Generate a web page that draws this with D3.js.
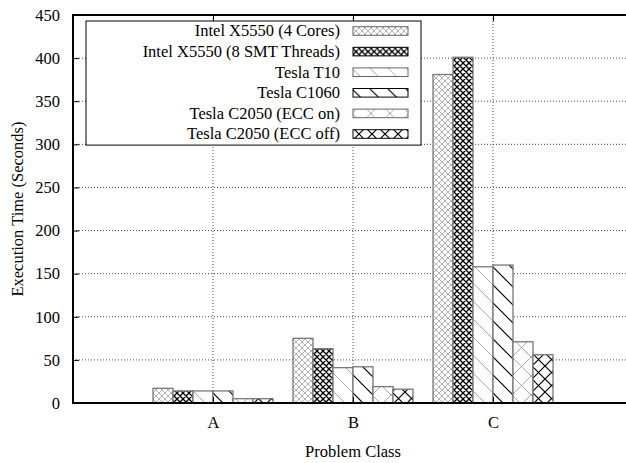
<!DOCTYPE html>
<html>
<head>
<meta charset="utf-8">
<script src="https://cdn.jsdelivr.net/npm/d3@7"></script>
<style>
  html, body { margin: 0; padding: 0; background: #fff; }
  svg { display: block; }
  text { font-family: "Liberation Serif", "Times New Roman", serif; fill: #000; }
</style>
</head>
<body>
<div id="chart"></div>
<script>
// values (seconds)
const categories = ["A", "B", "C"];
const seriesNames = [
  "Intel X5550 (4 Cores)",
  "Intel X5550 (8 SMT Threads)",
  "Tesla T10",
  "Tesla C1060",
  "Tesla C2050 (ECC on)",
  "Tesla C2050 (ECC off)"
];
const intel4Cores = [17, 75, 381];
const intel8Threads = [14, 63, 401];
const teslaT10 = [14, 41, 158];
const teslaC1060 = [14, 42, 160];
const c2050EccOn = [5, 19, 71];
const c2050EccOff = [5, 16, 56];
const yTicks = [0, 50, 100, 150, 200, 250, 300, 350, 400, 450];

const seriesValues = [intel4Cores, intel8Threads, teslaT10, teslaC1060, c2050EccOn, c2050EccOff];

class barPlot {
  margin = {top: 15, right: -7, bottom: 60, left: 73};
  totalWidth = 626;
  totalHeight = 463;
  fontSize = 16.5;

  constructor(rows) {
    this.rows = rows;
    this.width = this.totalWidth - this.margin.left - this.margin.right;
    this.height = this.totalHeight - this.margin.top - this.margin.bottom;
  }

  init = () => {
    this.root = d3.select("#chart").append("svg")
      .attr("width", this.totalWidth)
      .attr("height", this.totalHeight)
      .style("overflow", "hidden");

    this.#patterns();

    this.svg = this.root.append("g")
      .attr("transform", `translate(${this.margin.left},${this.margin.top})`);

    this.x = d3.scalePoint().domain(categories).range([this.width * 0.25, this.width * 0.75]);
    const step = this.x.step();
    this.x1 = d3.scaleBand().domain(seriesNames).range([-step * 3 / 7, step * 3 / 7]);
    this.y = d3.scaleLinear().domain([0, 450]).range([this.height, 0]);

    this.#grid();
    this.#legend();
    this.#bars();
    this.#axes();
  }

  // gnuplot-ish fill patterns
  #patterns = () => {
    const defs = this.root.append("defs");
    const cross = (id, size, color, sw) => {
      const p = defs.append("pattern").attr("id", id)
        .attr("patternUnits", "userSpaceOnUse")
        .attr("width", size).attr("height", size);
      p.append("rect").attr("width", size).attr("height", size).attr("fill", "#fff");
      p.append("path")
        .attr("d", `M0,0L${size},${size}M${size},0L0,${size}M-1,1L1,-1M${size - 1},${size + 1}L${size + 1},${size - 1}`)
        .attr("stroke", color).attr("stroke-width", sw).attr("fill", "none");
    };
    const hatch = (id, size, color, sw) => {
      const p = defs.append("pattern").attr("id", id)
        .attr("patternUnits", "userSpaceOnUse")
        .attr("width", size).attr("height", size);
      p.append("rect").attr("width", size).attr("height", size).attr("fill", "#fff");
      p.append("path")
        .attr("d", `M0,0L${size},${size}M-2,${size - 2}L2,${size + 2}M${size - 2},-2L${size + 2},2`)
        .attr("stroke", color).attr("stroke-width", sw).attr("fill", "none");
    };
    cross("pat0", 6, "#aaa", 0.9);
    cross("pat1", 6, "#000", 1.3);
    hatch("pat2", 18, "#aaa", 1);
    hatch("pat3", 18, "#000", 1.2);
    cross("pat4", 19, "#aaa", 1);
    cross("pat5", 13, "#000", 1.2);
  }

  #grid = () => {
    const g = this.svg.append("g")
      .attr("stroke", "#333")
      .attr("stroke-width", 0.9)
      .attr("stroke-dasharray", "1,2");
    g.selectAll("line.h")
      .data(yTicks.filter(d => d > 0 && d < 450))
      .join("line")
      .attr("class", "h")
      .attr("x1", 0).attr("x2", this.width)
      .attr("y1", d => this.y(d)).attr("y2", d => this.y(d));
    g.selectAll("line.v")
      .data(categories)
      .join("line")
      .attr("class", "v")
      .attr("x1", d => this.x(d)).attr("x2", d => this.x(d))
      .attr("y1", 0).attr("y2", this.height);
  }

  #legend = () => {
    const lg = this.svg.append("g").attr("transform", "translate(13,6)");
    const rowH = 20.6;
    lg.append("rect")
      .attr("width", 335).attr("height", rowH * seriesNames.length + 0.5)
      .attr("fill", "#fff").attr("stroke", "#000").attr("stroke-width", 1);
    const row = lg.selectAll("g.row")
      .data(seriesNames)
      .join("g")
      .attr("class", "row")
      .attr("transform", (d, i) => `translate(0,${10 + i * rowH})`);
    row.append("text")
      .attr("x", 254)
      .attr("dy", "0.33em")
      .attr("text-anchor", "end")
      .style("font-size", this.fontSize + "px")
      .text(d => d);
    row.append("rect")
      .attr("x", 267).attr("y", -4.3)
      .attr("width", 55).attr("height", 8.6)
      .attr("fill", (d, i) => `url(#pat${i})`)
      .attr("stroke", (d, i) => i % 2 ? "#000" : "#666")
      .attr("stroke-width", 1);
  }

  #bars = () => {
    const grp = this.svg.append("g").selectAll("g")
      .data(categories)
      .join("g")
      .attr("transform", d => `translate(${this.x(d)},0)`);
    grp.selectAll("rect")
      .data((c, ci) => seriesNames.map((s, si) => ({s, si, v: this.rows[si][ci]})))
      .join("rect")
      .attr("x", d => this.x1(d.s))
      .attr("width", this.x1.bandwidth())
      .attr("y", d => this.y(d.v))
      .attr("height", d => this.y(0) - this.y(d.v))
      .attr("fill", d => `url(#pat${d.si})`)
      .attr("stroke", "#777")
      .attr("stroke-width", 1.3);
  }

  #axes = () => {
    const fs = this.fontSize + "px";
    const ya = this.svg.append("g")
      .call(d3.axisLeft(this.y).tickValues(yTicks).tickSizeInner(-6).tickSizeOuter(0).tickPadding(13));
    ya.select(".domain").remove();
    ya.selectAll("line").attr("stroke", "#000");
    ya.selectAll("text").style("font-size", fs).style("font-family", null);

    const yr = this.svg.append("g")
      .attr("transform", `translate(${this.width},0)`)
      .call(d3.axisRight(this.y).tickValues(yTicks).tickSizeInner(-6).tickSizeOuter(0).tickFormat(""));
    yr.select(".domain").remove();

    const xa = this.svg.append("g")
      .attr("transform", `translate(0,${this.height})`)
      .call(d3.axisBottom(this.x).tickSizeInner(-6).tickSizeOuter(0).tickPadding(13));
    xa.select(".domain").remove();
    xa.selectAll("text").style("font-size", fs).style("font-family", null);

    const xt = this.svg.append("g")
      .call(d3.axisTop(this.x).tickSizeInner(-6).tickSizeOuter(0).tickFormat(""));
    xt.select(".domain").remove();

    // frame
    this.svg.append("rect")
      .attr("width", this.width).attr("height", this.height)
      .attr("fill", "none").attr("stroke", "#000").attr("stroke-width", 2);

    this.svg.append("text")
      .attr("x", this.width / 2)
      .attr("y", this.height + 49)
      .attr("dy", "0.33em")
      .attr("text-anchor", "middle")
      .style("font-size", fs)
      .text("Problem Class");

    this.svg.append("text")
      .attr("transform", `translate(${18 - this.margin.left},${this.height / 2}) rotate(-90)`)
      .attr("dy", "0.33em")
      .attr("text-anchor", "middle")
      .style("font-size", fs)
      .text("Execution Time (Seconds)");
  }
}

const chart = new barPlot(seriesValues);
chart.init();
</script>
</body>
</html>
